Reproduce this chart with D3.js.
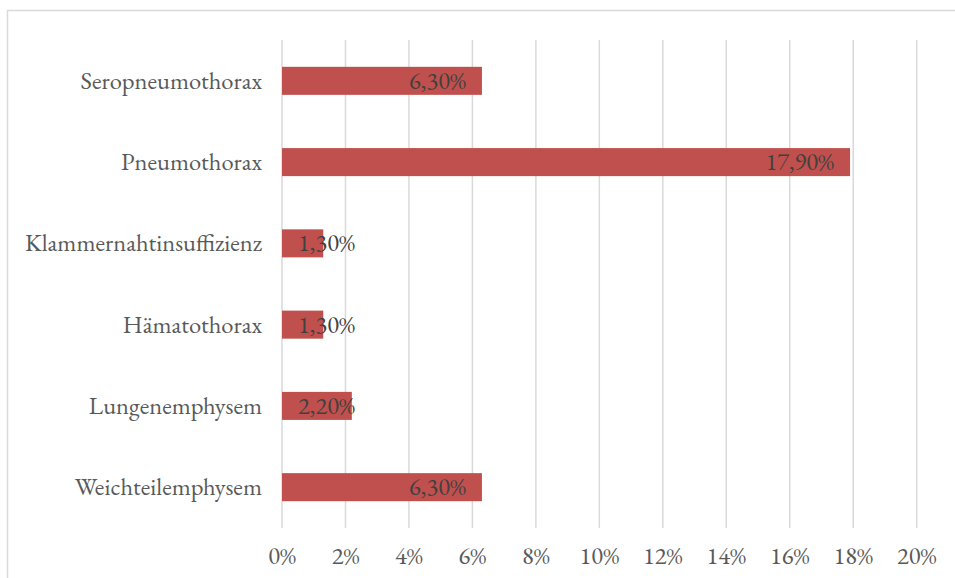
<!DOCTYPE html>
<html>
<head>
  <meta charset="UTF-8" />
  <script src="https://d3js.org/d3.v7.min.js"></script>
  <style>
    body { margin: 0; background: #fff; }
    text { font-family: Garamond, "EB Garamond", "Liberation Serif", "DejaVu Serif", serif; }
  </style>
</head>
<body>
  <div id="chart"></div>
  <script>
    // data (top to bottom)
    const categories = ["Seropneumothorax", "Pneumothorax", "Klammernahtinsuffizienz", "Hämatothorax", "Lungenemphysem", "Weichteilemphysem"];
    const values = [6.3, 17.9, 1.3, 1.3, 2.2, 6.3];
    const ticks = [0, 2, 4, 6, 8, 10, 12, 14, 16, 18, 20];

    const data = categories.map((c, i) => ({ name: c, value: values[i] }));

    const width = 955, height = 578;
    const fontSize = 24.5;
    const svg = d3.select("#chart")
      .append("svg")
      .attr("width", width)
      .attr("height", height);

    // outer chart frame
    svg.append("rect")
      .attr("x", 7.5)
      .attr("y", 10.5)
      .attr("width", 1000)
      .attr("height", 1000)
      .attr("fill", "none")
      .attr("stroke", "#d9d9d9")
      .attr("stroke-width", 1.5);

    const x = d3.scaleLinear().domain([0, 20]).range([282, 916.7]);
    const y = d3.scaleBand().domain(categories).range([40, 528]).paddingInner(0.655).paddingOuter(0.33);

    // gridlines
    svg.append("g")
      .selectAll("line")
      .data(ticks)
      .enter()
      .append("line")
      .attr("x1", d => x(d))
      .attr("x2", d => x(d))
      .attr("y1", 40)
      .attr("y2", 528)
      .attr("stroke", "#d9d9d9")
      .attr("stroke-width", 1.5);

    // x tick labels
    svg.append("g")
      .selectAll("text")
      .data(ticks)
      .enter()
      .append("text")
      .attr("x", d => x(d))
      .attr("y", 564)
      .attr("text-anchor", "middle")
      .attr("fill", "#595959")
      .attr("font-size", fontSize)
      .text(d => d + "%");

    // category labels
    svg.append("g")
      .selectAll("text")
      .data(data)
      .enter()
      .append("text")
      .attr("x", 262)
      .attr("y", d => y(d.name) + y.bandwidth() / 2)
      .attr("dy", "0.33em")
      .attr("text-anchor", "end")
      .attr("fill", "#595959")
      .attr("font-size", fontSize)
      .text(d => d.name);

    // bars
    svg.append("g")
      .selectAll("rect")
      .data(data)
      .enter()
      .append("rect")
      .attr("x", x(0))
      .attr("y", d => y(d.name))
      .attr("width", d => x(d.value) - x(0))
      .attr("height", y.bandwidth())
      .attr("fill", "#c0504d");

    // data labels: inside end, pushed right if the bar is too short
    svg.append("g")
      .selectAll("text")
      .data(data)
      .enter()
      .append("text")
      .attr("y", d => y(d.name) + y.bandwidth() / 2)
      .attr("dy", "0.33em")
      .attr("fill", "#404040")
      .attr("font-size", fontSize)
      .text(d => d.value.toFixed(2).replace(".", ",") + "%")
      .attr("x", function (d) {
        const w = this.getComputedTextLength();
        return Math.max(x(d.value) - 16 - w, x(0) + 16);
      });
  </script>
</body>
</html>
